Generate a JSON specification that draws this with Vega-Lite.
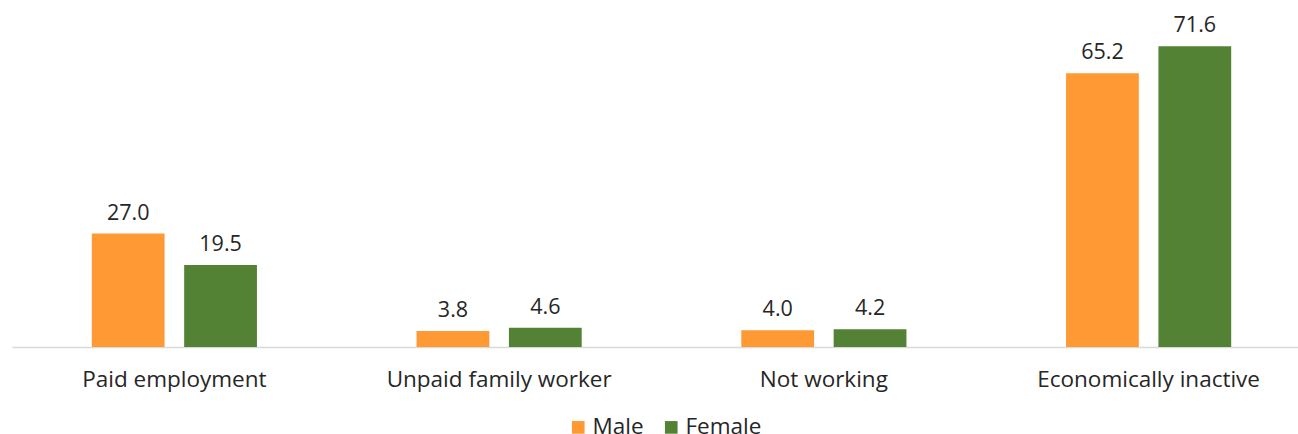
{
  "$schema": "https://vega.github.io/schema/vega-lite/v6.json",
  "autosize": {"type": "none"},
  "width": 1299,
  "height": 336,
  "padding": {"left": 12, "top": 11, "right": -13, "bottom": 87},
  "config": {
    "view": {"stroke": null},
    "font": "Open Sans",
    "text": {"font": "Open Sans"}
  },
  "data": {
    "values": [
      {"category": "Paid employment", "sex": "Male", "value": 27.0},
      {"category": "Paid employment", "sex": "Female", "value": 19.5},
      {"category": "Unpaid family worker", "sex": "Male", "value": 3.8},
      {"category": "Unpaid family worker", "sex": "Female", "value": 4.6},
      {"category": "Not working", "sex": "Male", "value": 4.0},
      {"category": "Not working", "sex": "Female", "value": 4.2},
      {"category": "Economically inactive", "sex": "Male", "value": 65.2},
      {"category": "Economically inactive", "sex": "Female", "value": 71.6}
    ]
  },
  "encoding": {
    "x": {
      "field": "category",
      "type": "nominal",
      "sort": null,
      "scale": {"paddingInner": 0, "paddingOuter": 0},
      "axis": {
        "title": null,
        "labelAngle": 0,
        "labelFontSize": 22.5,
        "labelLimit": 0,
        "labelColor": "#262626",
        "labelFont": "Open Sans",
        "labelPadding": 21,
        "ticks": false,
        "domainColor": "#d9d9d9",
        "domainWidth": 1.5
      }
    },
    "xOffset": {
      "field": "sex",
      "type": "nominal",
      "sort": ["Male", "Female"],
      "scale": {"paddingInner": 0.212, "paddingOuter": 0.864}
    },
    "y": {
      "field": "value",
      "type": "quantitative",
      "scale": {"domain": [0, 80]},
      "axis": null
    },
    "color": {
      "field": "sex",
      "type": "nominal",
      "sort": ["Male", "Female"],
      "scale": {"domain": ["Male", "Female"], "range": ["#FF9933", "#548235"]},
      "legend": {
        "title": null,
        "orient": "none",
        "legendX": 555,
        "legendY": 405,
        "direction": "horizontal",
        "symbolType": "square",
        "symbolSize": 160,
        "symbolStrokeWidth": 0,
        "labelFontSize": 22.5,
        "labelFont": "Open Sans",
        "labelColor": "#262626",
        "labelOffset": 3,
        "columnPadding": 16
      }
    }
  },
  "layer": [
    {"mark": {"type": "bar"}},
    {
      "mark": {"type": "text", "dy": -14, "baseline": "alphabetic", "fontSize": 21.5, "color": "#262626"},
      "encoding": {
        "text": {"field": "value", "type": "quantitative", "format": ".1f"},
        "color": {"value": "#262626"}
      }
    }
  ]
}
